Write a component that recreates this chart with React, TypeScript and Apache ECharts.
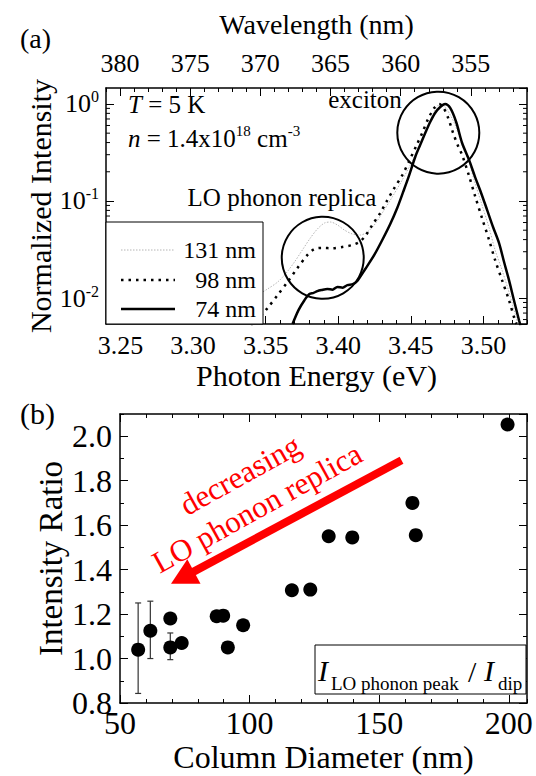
import React, { useEffect, useRef } from 'react';
import * as echarts from 'echarts';

const FONT = 'Liberation Serif, Times New Roman, Tinos, DejaVu Serif, serif';

// ---------- Panel (a): normalized PL spectra ----------
const energy131 = [3.3410, 3.3513, 3.3582, 3.3636, 3.3698, 3.3753, 3.3808, 3.3856, 3.3905, 3.3946, 3.3994, 3.4042, 3.4097, 3.4152, 3.4200, 3.4248, 3.4303, 3.4372, 3.4441, 3.4489, 3.4537, 3.4578, 3.4626, 3.4667, 3.4702, 3.4736, 3.4771, 3.4805, 3.4853, 3.4901, 3.4942, 3.4990, 3.5039, 3.5080, 3.5128, 3.5176, 3.5217, 3.5238];
const intensity131 = [0.0100, 0.0124, 0.0146, 0.0177, 0.0235, 0.0313, 0.0416, 0.0514, 0.0593, 0.0607, 0.0566, 0.0502, 0.0457, 0.0446, 0.0479, 0.0566, 0.0752, 0.110, 0.165, 0.224, 0.313, 0.425, 0.622, 0.867, 1.0, 0.931, 0.770, 0.608, 0.378, 0.247, 0.153, 0.091, 0.0527, 0.0313, 0.0194, 0.0115, 0.0070, 0.0054];

const energy98 = [3.3400, 3.3465, 3.3513, 3.3582, 3.3650, 3.3719, 3.3788, 3.3836, 3.3891, 3.3960, 3.4028, 3.4097, 3.4145, 3.4186, 3.4234, 3.4289, 3.4338, 3.4386, 3.4441, 3.4489, 3.4537, 3.4578, 3.4619, 3.4661, 3.4695, 3.4722, 3.4757, 3.4791, 3.4825, 3.4853, 3.4901, 3.4942, 3.4990, 3.5039, 3.5080, 3.5128, 3.5176, 3.5217, 3.5228];
const intensity98 = [0.0050, 0.0065, 0.0079, 0.0107, 0.0146, 0.0204, 0.0278, 0.0320, 0.0328, 0.0326, 0.0336, 0.0352, 0.0378, 0.0436, 0.0566, 0.0752, 0.102, 0.136, 0.185, 0.259, 0.369, 0.502, 0.700, 0.909, 1.0, 0.931, 0.717, 0.502, 0.369, 0.298, 0.181, 0.113, 0.0668, 0.0396, 0.0247, 0.0153, 0.0095, 0.0059, 0.0054];

const energy74 = [3.3685, 3.3726, 3.3767, 3.3801, 3.3830, 3.3856, 3.3885, 3.3925, 3.3960, 3.3994, 3.4030, 3.4063, 3.4100, 3.4131, 3.4186, 3.4248, 3.4303, 3.4358, 3.4406, 3.4447, 3.4482, 3.4530, 3.4564, 3.4599, 3.4633, 3.4667, 3.4702, 3.4736, 3.4771, 3.4812, 3.4853, 3.4901, 3.4942, 3.4984, 3.5025, 3.5066, 3.5107, 3.5142, 3.5176, 3.5210, 3.5245, 3.5255];
const intensity74 = [0.0054, 0.0075, 0.0095, 0.0110, 0.0113, 0.0118, 0.0121, 0.0124, 0.0122, 0.0130, 0.0128, 0.0136, 0.0139, 0.0150, 0.0199, 0.0278, 0.0396, 0.0579, 0.0847, 0.124, 0.173, 0.284, 0.378, 0.502, 0.652, 0.808, 0.931, 1.0, 0.909, 0.652, 0.396, 0.265, 0.177, 0.121, 0.081, 0.054, 0.037, 0.0235, 0.0153, 0.0095, 0.0059, 0.0052];

// highlighted regions (circle centres): exciton, LO phonon replica
const circleEnergies = [3.4689, 3.3893];
const circleIntensities = [0.506, 0.026];

const logMinorTicks = [0.006, 0.007, 0.008, 0.009, 0.02, 0.03, 0.04, 0.05, 0.06, 0.07, 0.08, 0.09, 0.2, 0.3, 0.4, 0.5, 0.6, 0.7, 0.8, 0.9];

// ---------- Panel (b): intensity ratio vs column diameter ----------
const diameters = [57, 61.7, 69.4, 69.4, 73.8, 87.3, 89.8, 91.6, 97.5, 116.3, 123.4, 130.5, 139.6, 162.8, 164.1, 199.5];
const ratios = [1.04, 1.125, 1.18, 1.05, 1.07, 1.19, 1.193, 1.05, 1.15, 1.307, 1.31, 1.55, 1.545, 1.70, 1.555, 2.053];
const errDiameters = [57, 61.7, 69.4];
const errLow = [0.843, 1.0, 0.995];
const errHigh = [1.25, 1.258, 1.115];

// arrow annotation (data coordinates)
const arrowFrom = [158.6, 1.892];
const arrowTo = [74.1, 1.364];

// axis ranges
const E_MIN = 3.24, E_MAX = 3.53;
const I_MIN = 0.0054, I_MAX = 1.46;
const L_MIN = 351, L_MAX = 381;
const D_MIN = 50, D_MAX = 207;
const R_MIN = 0.8, R_MAX = 2.1;

const BLACK = '#000';
const axisLineOn = { show: true, lineStyle: { color: BLACK, width: 1.5 } };
const noLine = { show: false };
const tickMajor = { show: true, inside: true, length: 8, lineStyle: { color: BLACK, width: 1 } };
const tickMinor = { show: true, inside: true, length: 4, lineStyle: { color: BLACK, width: 1 } };
const noLabel = { show: false };
const noSplit = { show: false };

function buildOption(): any {
  const pairs = (xs: number[], ys: number[]) => xs.map((x, i) => [x, ys[i]]);

  const xAxis: any[] = [
    {
      gridIndex: 0, type: 'value', position: 'bottom', min: E_MIN, max: E_MAX, splitNumber: 5,
      axisLine: axisLineOn, axisTick: tickMajor, splitLine: noSplit,
      axisLabel: { fontFamily: FONT, fontSize: 26, color: BLACK, margin: 8, showMinLabel: false, showMaxLabel: false, formatter: (v: number) => v.toFixed(2) },
      name: 'Photon Energy (eV)', nameLocation: 'middle', nameGap: 36, nameMoveOverlap: false,
      nameTextStyle: { fontFamily: FONT, fontSize: 30, color: BLACK },
    },
    {
      gridIndex: 0, type: 'value', position: 'bottom', min: E_MIN, max: E_MAX, interval: 0.01,
      axisLine: noLine, axisTick: tickMinor, axisLabel: noLabel, splitLine: noSplit,
    },
    {
      gridIndex: 0, type: 'value', position: 'top', inverse: true, min: L_MIN, max: L_MAX, splitNumber: 5,
      axisLine: axisLineOn, axisTick: tickMajor, splitLine: noSplit,
      axisLabel: { fontFamily: FONT, fontSize: 26, color: BLACK, margin: 12, showMinLabel: false, showMaxLabel: false },
      name: 'Wavelength (nm)', nameLocation: 'middle', nameGap: 50, nameMoveOverlap: false,
      nameTextStyle: { fontFamily: FONT, fontSize: 28, color: BLACK },
    },
    {
      gridIndex: 0, type: 'value', position: 'top', inverse: true, min: L_MIN, max: L_MAX, interval: 1,
      axisLine: noLine, axisTick: tickMinor, axisLabel: noLabel, splitLine: noSplit,
    },
    {
      gridIndex: 1, type: 'value', position: 'bottom', min: D_MIN, max: D_MAX, interval: 50,
      axisLine: axisLineOn, axisTick: tickMajor, splitLine: noSplit,
      axisLabel: { fontFamily: FONT, fontSize: 32, color: BLACK, margin: 4, showMaxLabel: false },
      name: 'Column Diameter (nm)', nameLocation: 'middle', nameGap: 38, nameMoveOverlap: false,
      nameTextStyle: { fontFamily: FONT, fontSize: 32, color: BLACK },
    },
    {
      gridIndex: 1, type: 'value', position: 'bottom', min: D_MIN, max: D_MAX, interval: 10,
      axisLine: noLine, axisTick: tickMinor, axisLabel: noLabel, splitLine: noSplit,
    },
    {
      gridIndex: 1, type: 'value', position: 'top', min: D_MIN, max: D_MAX, interval: 50,
      axisLine: axisLineOn, axisTick: tickMajor, axisLabel: noLabel, splitLine: noSplit,
    },
    {
      gridIndex: 1, type: 'value', position: 'top', min: D_MIN, max: D_MAX, interval: 10,
      axisLine: noLine, axisTick: tickMinor, axisLabel: noLabel, splitLine: noSplit,
    },
  ];

  const yAxis: any[] = [
    {
      gridIndex: 0, type: 'log', logBase: 10, position: 'left', min: I_MIN, max: I_MAX,
      axisLine: axisLineOn, axisTick: tickMajor, splitLine: noSplit,
      axisLabel: {
        margin: 7, showMinLabel: false, showMaxLabel: false,
        formatter: (v: number) => `{b|10}{s|${Math.round(Math.log10(v))}}`,
        rich: {
          b: { fontFamily: FONT, fontSize: 26, color: BLACK, lineHeight: 30 },
          s: { fontFamily: FONT, fontSize: 16, color: BLACK, lineHeight: 16, verticalAlign: 'top' },
        },
      },
      name: 'Normalized Intensity', nameLocation: 'middle', nameGap: 51, nameRotate: 90, nameMoveOverlap: false,
      nameTextStyle: { fontFamily: FONT, fontSize: 30, color: BLACK },
    },
    {
      gridIndex: 0, type: 'log', logBase: 10, position: 'right', min: I_MIN, max: I_MAX,
      axisLine: axisLineOn, axisTick: tickMajor, axisLabel: noLabel, splitLine: noSplit,
    },
    {
      gridIndex: 1, type: 'value', position: 'left', min: R_MIN, max: R_MAX, interval: 0.2,
      axisLine: axisLineOn, axisTick: tickMajor, splitLine: noSplit,
      axisLabel: { fontFamily: FONT, fontSize: 32, color: BLACK, margin: 8, showMaxLabel: false, formatter: (v: number) => v.toFixed(1) },
      name: 'Intensity Ratio', nameLocation: 'middle', nameGap: 53, nameRotate: 90, nameMoveOverlap: false,
      nameTextStyle: { fontFamily: FONT, fontSize: 33, color: BLACK },
    },
    {
      gridIndex: 1, type: 'value', position: 'left', min: R_MIN, max: R_MAX, interval: 0.1,
      axisLine: noLine, axisTick: tickMinor, axisLabel: noLabel, splitLine: noSplit,
    },
    {
      gridIndex: 1, type: 'value', position: 'right', min: R_MIN, max: R_MAX, interval: 0.2,
      axisLine: axisLineOn, axisTick: tickMajor, axisLabel: noLabel, splitLine: noSplit,
    },
    {
      gridIndex: 1, type: 'value', position: 'right', min: R_MIN, max: R_MAX, interval: 0.1,
      axisLine: noLine, axisTick: tickMinor, axisLabel: noLabel, splitLine: noSplit,
    },
  ];

  const series: any[] = [
    {
      name: '131 nm', type: 'line', xAxisIndex: 0, yAxisIndex: 0, data: pairs(energy131, intensity131),
      showSymbol: false, smooth: 0.3, silent: true, z: 2,
      lineStyle: { color: '#b4b4b4', width: 1, type: [1.5, 1.5], opacity: 1 },
    },
    {
      name: '98 nm', type: 'line', xAxisIndex: 0, yAxisIndex: 0, data: pairs(energy98, intensity98),
      showSymbol: false, smooth: 0.3, silent: true, z: 3,
      lineStyle: { color: BLACK, width: 2.5, type: [2.5, 5], opacity: 1 },
    },
    {
      name: '74 nm', type: 'line', xAxisIndex: 0, yAxisIndex: 0, data: pairs(energy74, intensity74),
      showSymbol: false, smooth: 0.3, silent: true, z: 4,
      lineStyle: { color: BLACK, width: 2.5, opacity: 1 },
    },
    {
      name: 'circles', type: 'scatter', xAxisIndex: 0, yAxisIndex: 0, data: pairs(circleEnergies, circleIntensities),
      symbol: 'circle', symbolSize: 82, silent: true, clip: false, z: 5,
      itemStyle: { color: 'rgba(0,0,0,0)', borderColor: BLACK, borderWidth: 2, opacity: 1 },
    },
    {
      name: 'logMinor', type: 'custom', xAxisIndex: 0, yAxisIndex: 0, silent: true, z: 6,
      data: logMinorTicks.map((v) => [E_MIN, v]),
      renderItem: (_p: any, api: any) => {
        const v = api.value(1);
        const l = api.coord([E_MIN, v]);
        const r = api.coord([E_MAX, v]);
        return {
          type: 'group',
          children: [
            { type: 'line', shape: { x1: l[0], y1: l[1], x2: l[0] + 4, y2: l[1] }, style: { stroke: BLACK, lineWidth: 1 } },
            { type: 'line', shape: { x1: r[0] - 4, y1: r[1], x2: r[0], y2: r[1] }, style: { stroke: BLACK, lineWidth: 1 } },
          ],
        };
      },
    },
    {
      name: 'errors', type: 'custom', xAxisIndex: 4, yAxisIndex: 2, silent: true, z: 3,
      data: errDiameters.map((d, i) => [d, errLow[i], errHigh[i]]),
      encode: { x: 0, y: [1, 2] },
      renderItem: (_p: any, api: any) => {
        const x = api.value(0);
        const lo = api.coord([x, api.value(1)]);
        const hi = api.coord([x, api.value(2)]);
        const st = { stroke: '#333', lineWidth: 1.2 };
        return {
          type: 'group',
          children: [
            { type: 'line', shape: { x1: lo[0], y1: lo[1], x2: hi[0], y2: hi[1] }, style: st },
            { type: 'line', shape: { x1: lo[0] - 3, y1: lo[1], x2: lo[0] + 3, y2: lo[1] }, style: st },
            { type: 'line', shape: { x1: hi[0] - 3, y1: hi[1], x2: hi[0] + 3, y2: hi[1] }, style: st },
          ],
        };
      },
    },
    {
      name: 'ratio', type: 'scatter', xAxisIndex: 4, yAxisIndex: 2, data: pairs(diameters, ratios),
      symbol: 'circle', symbolSize: 14, silent: true, z: 5,
      itemStyle: { color: BLACK, opacity: 1 },
      markLine: {
        silent: true, animation: false,
        symbol: ['none', 'triangle'], symbolSize: [28, 26],
        label: { show: false },
        lineStyle: { color: '#ff0000', width: 8, type: 'solid', opacity: 1 },
        itemStyle: { color: '#ff0000', opacity: 1 },
        emphasis: { disabled: true },
        data: [[{ coord: arrowFrom }, { coord: arrowTo }]],
      },
    },
  ];

  const txt = (x: number, y: number, text: string, size: number, extra: any = {}) => ({
    type: 'text', x, y, z: 100,
    style: { text, fill: BLACK, fontFamily: FONT, fontSize: size, align: 'left', verticalAlign: 'middle', ...extra },
  });

  const rot = (29 * Math.PI) / 180;

  const graphic: any[] = [
    txt(20, 38, '(a)', 28),
    txt(20, 413, '(b)', 30),
    {
      type: 'text', x: 128, y: 104, z: 100,
      style: {
        text: '{i|T}{r| = 5 K}', verticalAlign: 'middle',
        rich: {
          i: { fontFamily: FONT, fontSize: 25, fontStyle: 'italic', fill: BLACK },
          r: { fontFamily: FONT, fontSize: 25, fill: BLACK },
        },
      },
    },
    {
      type: 'text', x: 128, y: 138, z: 100,
      style: {
        text: '{i|n}{r| = 1.4x10}{s|18}{r| cm}{s|-3}', verticalAlign: 'middle',
        rich: {
          i: { fontFamily: FONT, fontSize: 25, fontStyle: 'italic', fill: BLACK, lineHeight: 30 },
          r: { fontFamily: FONT, fontSize: 25, fill: BLACK, lineHeight: 30 },
          s: { fontFamily: FONT, fontSize: 15, fill: BLACK, lineHeight: 15, verticalAlign: 'top' },
        },
      },
    },
    txt(365, 99, 'exciton', 25, { align: 'center' }),
    txt(282, 197, 'LO phonon replica', 25, { align: 'center' }),
    { type: 'rect', z: 90, shape: { x: 106, y: 222, width: 157, height: 102 }, style: { fill: '#fff', stroke: BLACK, lineWidth: 1 } },
    { type: 'line', z: 100, shape: { x1: 121, y1: 250, x2: 175, y2: 250 }, style: { stroke: '#b4b4b4', lineWidth: 1, lineDash: [1.5, 1.5] } },
    { type: 'line', z: 100, shape: { x1: 121, y1: 280, x2: 175, y2: 280 }, style: { stroke: BLACK, lineWidth: 2.5, lineDash: [2.5, 5] } },
    { type: 'line', z: 100, shape: { x1: 121, y1: 309, x2: 175, y2: 309 }, style: { stroke: BLACK, lineWidth: 2.5 } },
    txt(256, 250, '131 nm', 24, { align: 'right' }),
    txt(256, 280, '98 nm', 24, { align: 'right' }),
    txt(256, 309, '74 nm', 24, { align: 'right' }),
    { type: 'text', x: 240, y: 475, rotation: rot, z: 100, style: { text: 'decreasing', fill: '#ff0000', fontFamily: FONT, fontSize: 31, align: 'center', verticalAlign: 'middle' } },
    { type: 'text', x: 257, y: 508, rotation: rot, z: 100, style: { text: 'LO phonon replica', fill: '#ff0000', fontFamily: FONT, fontSize: 31, align: 'center', verticalAlign: 'middle' } },
    { type: 'rect', z: 90, shape: { x: 315, y: 645, width: 211, height: 49 }, style: { fill: '#fff', stroke: BLACK, lineWidth: 1 } },
    txt(318, 670, 'I', 30, { fontStyle: 'italic' }),
    txt(331, 683, 'LO phonon peak', 19),
    txt(468, 671, '/', 30),
    txt(484, 670, 'I', 30, { fontStyle: 'italic' }),
    txt(498, 683, 'dip', 19),
  ];

  return {
    animation: false,
    backgroundColor: '#fff',
    textStyle: { fontFamily: FONT },
    grid: [
      { left: 106, top: 88, width: 421, height: 236, containLabel: false, outerBoundsMode: 'none' },
      { left: 120, top: 414, width: 407, height: 289, containLabel: false, outerBoundsMode: 'none' },
    ],
    xAxis,
    yAxis,
    series,
    graphic,
  };
}

export default function App() {
  const ref = useRef<HTMLDivElement>(null);
  useEffect(() => {
    if (!ref.current) return;
    const chart = echarts.init(ref.current, null, { renderer: 'svg' });
    chart.setOption(buildOption());
    return () => chart.dispose();
  }, []);
  return (
    <div
      ref={ref}
      style={{ position: 'fixed', left: 0, top: 0, width: 536, height: 776, background: '#fff' }}
    />
  );
}
